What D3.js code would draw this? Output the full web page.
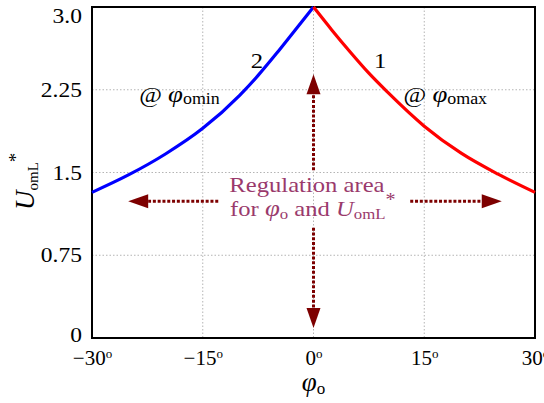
<!DOCTYPE html>
<html><head><meta charset="utf-8">
<script src="https://cdn.jsdelivr.net/npm/d3@7"></script>
<style>
body{margin:0;background:#fff}
svg{display:block}
svg text{font-family:"Liberation Serif","Tinos","Times New Roman","DejaVu Serif",Times,serif}
</style>
</head><body>
<svg id="chart" width="544" height="403"></svg>
<script>
// Curve 1: U_omL* at φo,max (right branch)
const phiMaxDeg = [0, 2.5, 5, 7.5, 10, 15, 20, 25, 30];
const uAtPhiMax = [3.0, 2.79, 2.59, 2.40, 2.23, 1.92, 1.675, 1.485, 1.32];
// Curve 2: U_omL* at φo,min (left branch)
const phiMinDeg = [-30, -25, -20, -15, -10, -7.5, -5, -2.5, 0];
const uAtPhiMin = [1.32, 1.48, 1.67, 1.90, 2.20, 2.38, 2.58, 2.79, 3.0];

const xTicks = [-30, -15, 0, 15, 30];
const xTickLabels = ["\u221230", "\u221215", "0", "15", "30"];
const yTicks = [0, 0.75, 1.5, 2.25, 3.0];
const yTickLabels = ["0", "0.75", "1.5", "2.25", "3.0"];

const serif = "'Liberation Serif', 'Tinos', 'Times New Roman', 'DejaVu Serif', serif";
const stretch = 1.12;   // slightly wide lettering
const svg = d3.select("#chart").attr("font-family", serif);
const plotL = 92, plotR = 535, plotT = 7, plotB = 338;

const x = d3.scaleLinear().domain([-30, 30]).range([plotL, plotR]);
const y = d3.scaleLinear().domain([0, 3]).range([plotB, plotT]);

// dotted grid
const grid = svg.append("g").attr("stroke", "#b4b4b4").attr("stroke-width", 1)
  .attr("stroke-dasharray", "1.5,2");
grid.selectAll("line.v").data(xTicks.slice(1, -1)).join("line").attr("class", "v")
  .attr("x1", d => x(d)).attr("x2", d => x(d)).attr("y1", plotT).attr("y2", plotB);
grid.selectAll("line.h").data(yTicks.slice(1, -1)).join("line").attr("class", "h")
  .attr("y1", d => y(d)).attr("y2", d => y(d)).attr("x1", plotL).attr("x2", plotR);

// axes (labels only, no tick marks)
const yAxis = svg.append("g").attr("transform", `translate(${plotL},0)`)
  .call(d3.axisLeft(y).tickValues(yTicks).tickSize(0).tickPadding(9)
    .tickFormat((d, i) => yTickLabels[i]));
yAxis.select(".domain").remove();
yAxis.attr("font-family", serif).attr("font-size", 21);
yAxis.selectAll("text").attr("fill", "#000")
  .attr("transform", `scale(${stretch},1)`)
  .attr("dy", d => d === 3 ? "0.72em" : d === 0 ? "0.15em" : "0.32em");

const xAxis = svg.append("g").attr("transform", `translate(0,${plotB})`)
  .call(d3.axisBottom(x).tickValues(xTicks).tickSize(0).tickPadding(12));
xAxis.select(".domain").remove();
xAxis.attr("font-family", serif).attr("font-size", 21);
xAxis.selectAll("text").attr("fill", "#000")
  .each(function (d, i) {
    const t = d3.select(this).text(null);
    t.append("tspan").text(xTickLabels[i]);
    t.append("tspan").attr("font-size", 13).attr("dy", "-0.55em").text("o");
  });

// frame
svg.append("rect").attr("x", plotL).attr("y", plotT)
  .attr("width", plotR - plotL).attr("height", plotB - plotT)
  .attr("fill", "none").attr("stroke", "#000").attr("stroke-width", 2);

// curves
const line = d3.line().x(d => x(d[0])).y(d => y(d[1])).curve(d3.curveMonotoneX);
svg.append("path").datum(d3.zip(phiMinDeg, uAtPhiMin)).attr("d", line)
  .attr("fill", "none").attr("stroke", "#0000ff").attr("stroke-width", 3.2);
svg.append("path").datum(d3.zip(phiMaxDeg, uAtPhiMax)).attr("d", line)
  .attr("fill", "none").attr("stroke", "#ff0000").attr("stroke-width", 3.2);

// regulation-area arrows: [tailX, tailY, tipX, tipY] in data units
const arrows = [
  [-12.9, 1.24, -25.1, 1.24],
  [13.1, 1.24, 25.5, 1.24],
  [0, 1.52, 0, 2.39],
  [0, 1.0, 0, 0.09]
];
const arrowColor = "#7d0000";
const headLen = 20, headHalf = 7;
arrows.forEach(([tx, ty, hx, hy]) => {
  const x0 = x(tx), y0 = y(ty), x1 = x(hx), y1 = y(hy);
  const len = Math.hypot(x1 - x0, y1 - y0);
  const ux = (x1 - x0) / len, uy = (y1 - y0) / len;
  const bx = x1 - ux * headLen, by = y1 - uy * headLen;
  svg.append("line").attr("x1", x0).attr("y1", y0).attr("x2", bx).attr("y2", by)
    .attr("stroke", arrowColor).attr("stroke-width", 3).attr("stroke-dasharray", "3,1.8");
  svg.append("path")
    .attr("d", `M${x1},${y1}L${bx - uy * headHalf},${by + ux * headHalf}L${bx + uy * headHalf},${by - ux * headHalf}Z`)
    .attr("fill", arrowColor);
});

// text placed at (px, py) with a slight horizontal stretch
function wideText(px, py, size) {
  return svg.append("text")
    .attr("transform", `translate(${px},${py}) scale(${stretch},1)`)
    .attr("font-size", size);
}

// curve numbers
wideText(x(-8.5), y(2.45), 22).text("2");
wideText(x(8.2), y(2.45), 22).text("1");

// "@ φomin" / "@ φomax" annotations
function phiLabel(px, py, sub) {
  const t = wideText(px, py, 22);
  t.append("tspan").text("@ ");
  t.append("tspan").attr("font-style", "italic").attr("font-size", 24).text("\u03c6");
  t.append("tspan").attr("font-size", 16).attr("dy", 2).text(sub);
}
phiLabel(x(-23.6), y(2.14), "omin");
phiLabel(x(12.2), y(2.14), "omax");

// regulation-area caption
const capColor = "#9a3a6c";
wideText(x(-11.4), y(1.32), 22).attr("fill", capColor).text("Regulation area");
const cap2 = wideText(x(-11.3), y(1.11), 22).attr("fill", capColor);
cap2.append("tspan").text("for ");
cap2.append("tspan").attr("font-style", "italic").attr("font-size", 24).text("\u03c6");
cap2.append("tspan").attr("font-size", 15).attr("dy", 3).text("o");
cap2.append("tspan").attr("dy", -3).text(" and ");
cap2.append("tspan").attr("font-style", "italic").text("U");
cap2.append("tspan").attr("font-size", 15).attr("dy", 3).text("omL");
cap2.append("tspan").attr("font-size", 18).attr("dy", -13).text("*");

// axis titles
const xt = svg.append("text").attr("x", x(0)).attr("y", 391).attr("text-anchor", "middle");
xt.append("tspan").attr("font-style", "italic").attr("font-size", 27).text("\u03c6");
xt.append("tspan").attr("font-size", 17).attr("dy", 3).text("o");

const yt = svg.append("text").attr("transform", "translate(34,210) rotate(-90)");
yt.append("tspan").attr("font-style", "italic").attr("font-size", 27).text("U");
yt.append("tspan").attr("font-size", 15).attr("dy", 4).text("omL");
yt.append("tspan").attr("font-size", 19).attr("dy", -16).text("*");
</script>
</body></html>
